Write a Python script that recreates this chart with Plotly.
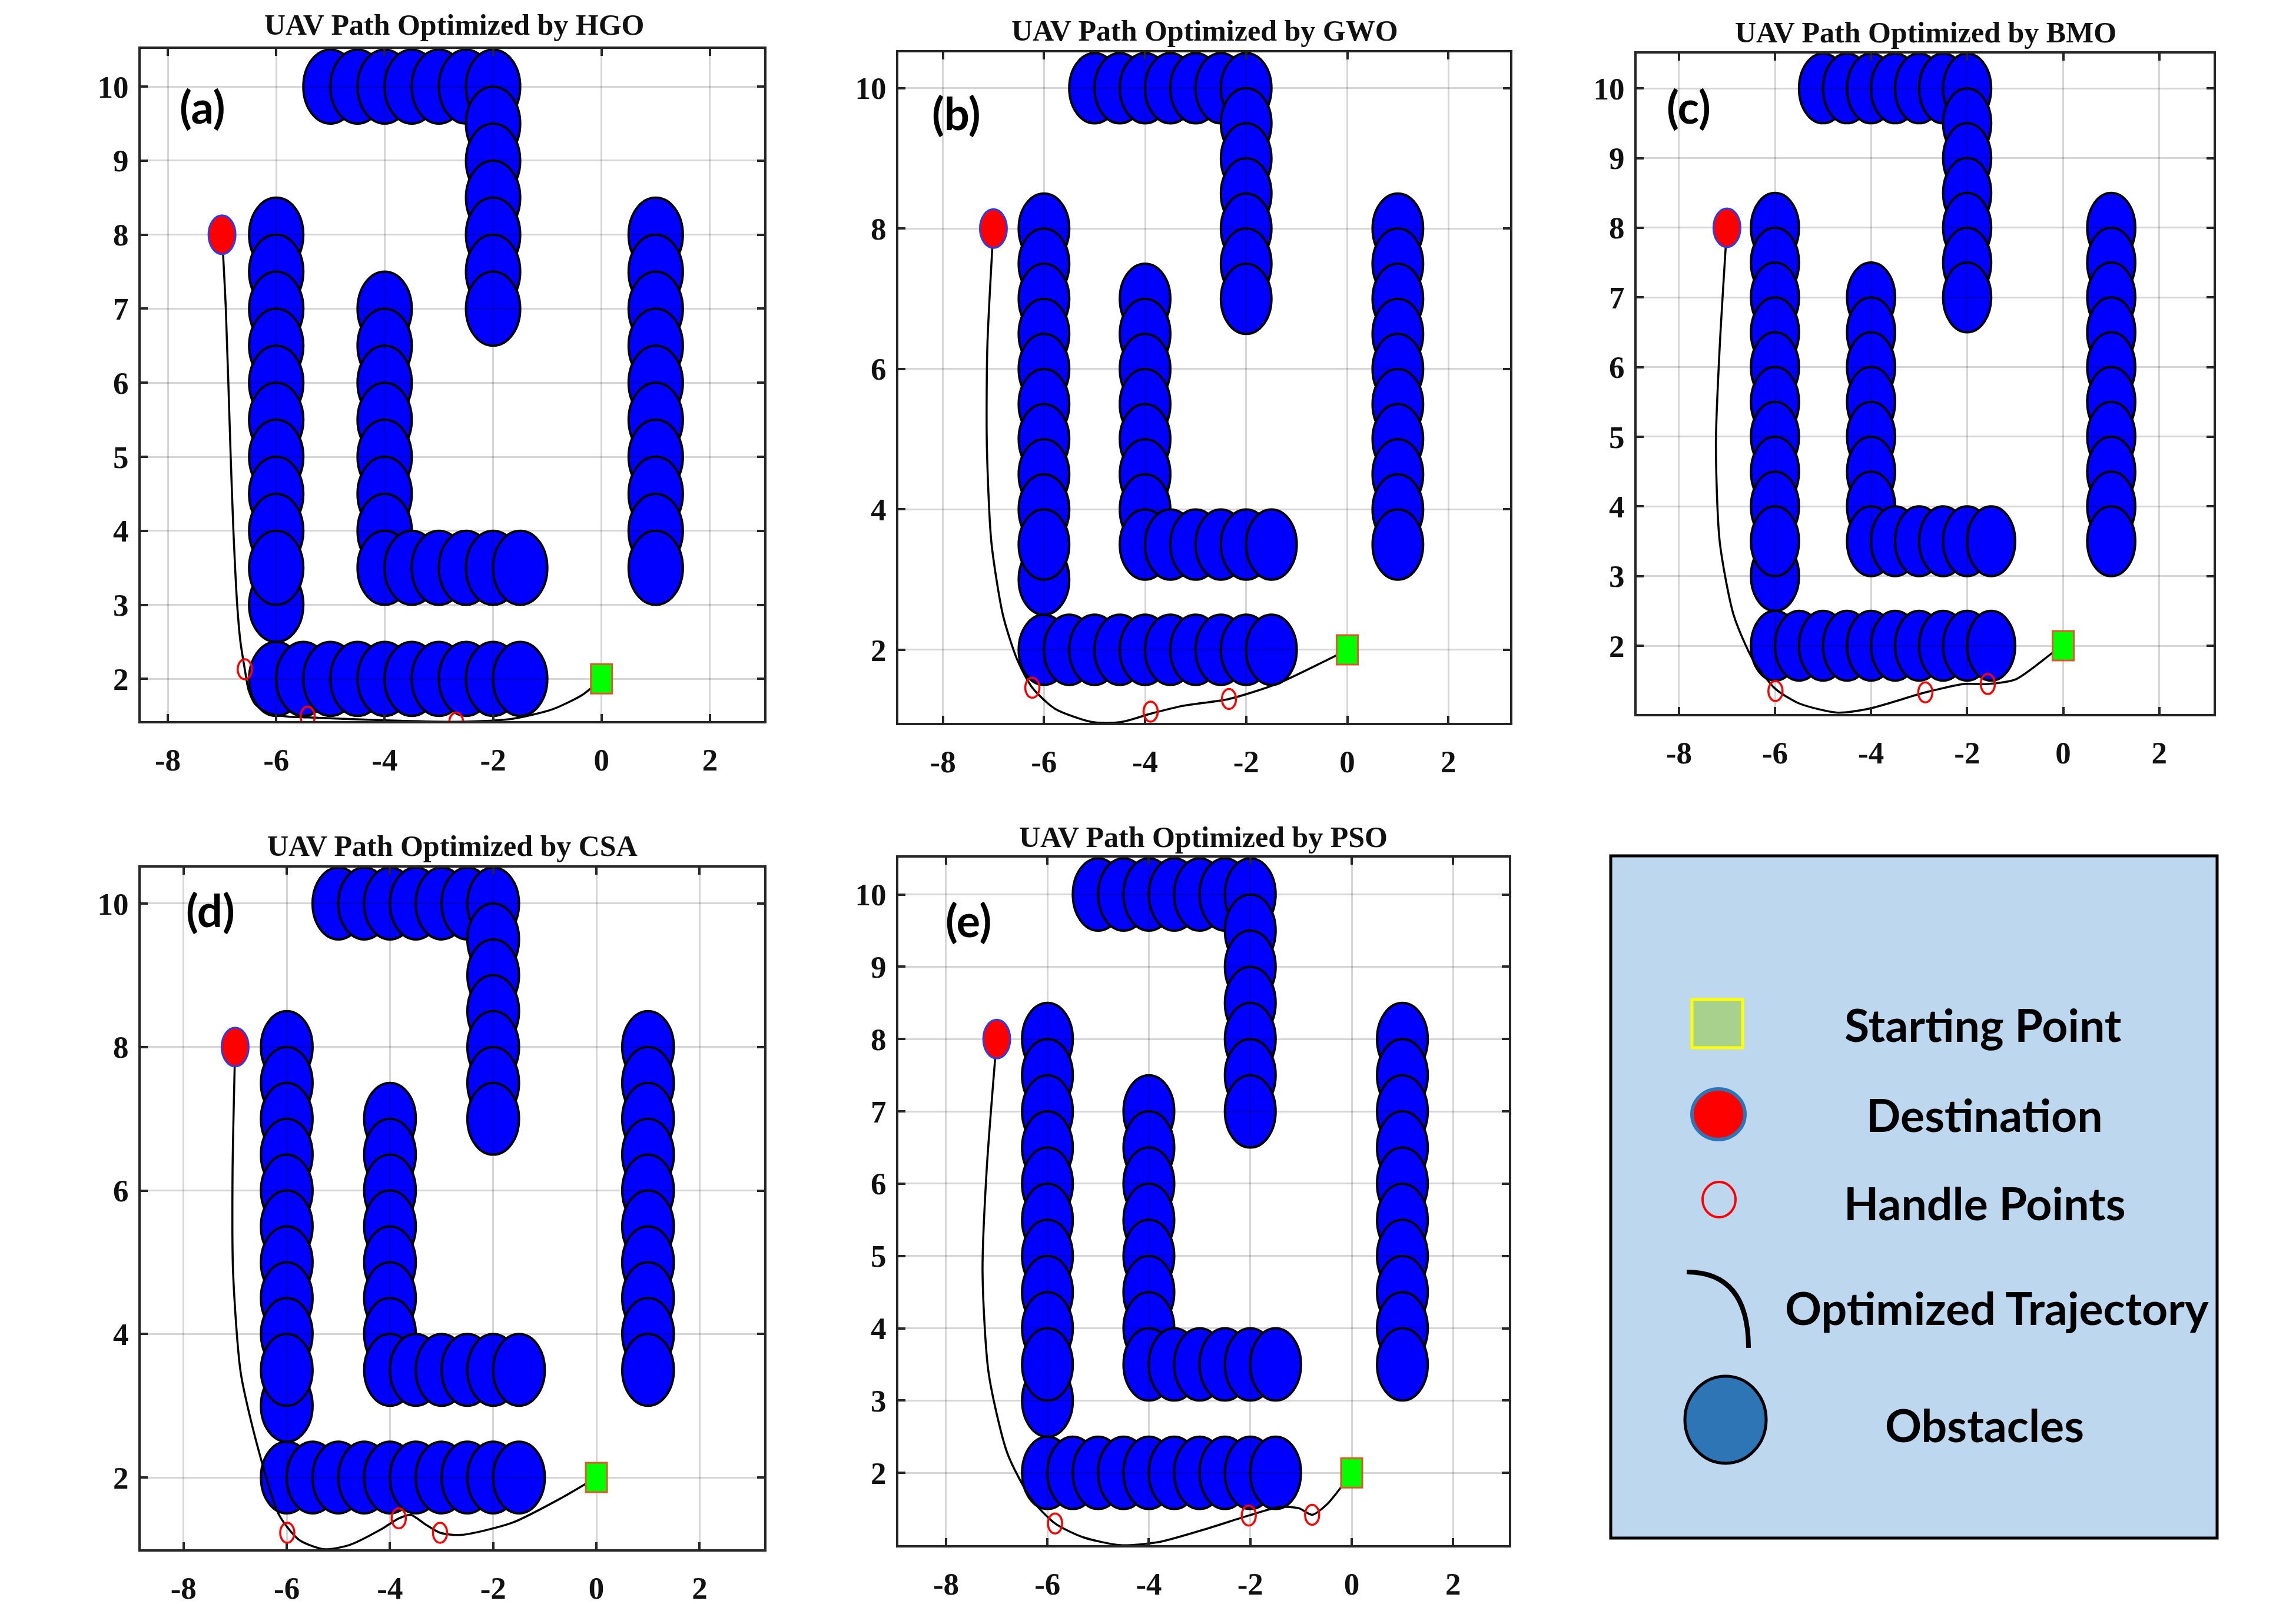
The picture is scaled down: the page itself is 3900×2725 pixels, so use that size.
import plotly.graph_objects as go

W, H = 3900, 2725

# ---------------- data ----------------
# obstacle centres (listed in drawing order), radius in data units
OBS_X = [-5, -4.5, -4, -3.5, -3, -2.5, -2,
         -2, -2, -2, -2, -2, -2,
         -6, -6, -6, -6, -6, -6, -6, -6, -6, -6, -6,
         -6, -5.5, -5, -4.5, -4, -3.5, -3, -2.5, -2, -1.5,
         -4, -4, -4, -4, -4, -4, -4,
         -4, -3.5, -3, -2.5, -2, -1.5,
         1, 1, 1, 1, 1, 1, 1, 1, 1, 1]
OBS_Y = [10, 10, 10, 10, 10, 10, 10,
         9.5, 9, 8.5, 8, 7.5, 7,
         3, 8, 7.5, 7, 6.5, 6, 5.5, 5, 4.5, 4, 3.5,
         2, 2, 2, 2, 2, 2, 2, 2, 2, 2,
         7, 6.5, 6, 5.5, 5, 4.5, 4,
         3.5, 3.5, 3.5, 3.5, 3.5, 3.5,
         8, 7.5, 7, 6.5, 6, 5.5, 5, 4.5, 4, 3.5]
OBS_R = 0.5

START_X, START_Y = 0, 2
DEST_X, DEST_Y = -7, 8

ALGOS = ["HGO", "GWO", "BMO", "CSA", "PSO"]
PANEL_TAGS = ["(a)", "(b)", "(c)", "(d)", "(e)"]

PATH_HGO_X = [-7.0, -6.93, -6.84, -6.79, -6.72, -6.66, -6.58, -6.51, -6.39, -6.15, -5.78, -5.42, -4.0, -2.68, -1.65, -0.9, -0.34, 0.0]
PATH_HGO_Y = [8.0, 7.0, 5.0, 4.0, 3.0, 2.5, 2.13, 1.85, 1.66, 1.54, 1.49, 1.48, 1.44, 1.42, 1.46, 1.59, 1.79, 2.0]
HANDLE_HGO_X = [-6.58, -5.42, -2.68]
HANDLE_HGO_Y = [2.13, 1.49, 1.41]

PATH_GWO_X = [-7.0, -7.12, -7.13, -7.04, -6.81, -6.53, -6.23, -5.78, -5.04, -4.48, -3.89, -3.27, -2.34, -1.41, -0.47, 0.0]
PATH_GWO_Y = [8.0, 6.32, 4.92, 3.53, 2.49, 1.86, 1.46, 1.16, 0.97, 0.97, 1.09, 1.2, 1.30, 1.51, 1.83, 2.0]
HANDLE_GWO_X = [-6.23, -3.89, -2.34]
HANDLE_GWO_Y = [1.46, 1.12, 1.30]

PATH_BMO_X = [-7.0, -7.15, -7.23, -7.15, -6.86, -6.46, -5.99, -5.49, -4.70, -4.02, -2.87, -2.06, -1.57, -0.98, -0.2, 0.0]
PATH_BMO_Y = [8.0, 6.3, 4.89, 3.49, 2.44, 1.80, 1.38, 1.17, 1.04, 1.10, 1.33, 1.45, 1.45, 1.52, 1.91, 2.0]
HANDLE_BMO_X = [-5.99, -2.87, -1.57]
HANDLE_BMO_Y = [1.35, 1.33, 1.45]

PATH_CSA_X = [-7.0, -7.05, -7.04, -6.89, -6.55, -6.15, -5.76, -5.27, -4.78, -4.19, -3.83, -3.6, -3.3, -3.03, -2.62, -1.63, -0.64, 0.0]
PATH_CSA_Y = [8.0, 6.27, 4.86, 3.45, 2.39, 1.48, 1.13, 1.0, 1.06, 1.27, 1.43, 1.48, 1.34, 1.23, 1.2, 1.37, 1.73, 2.0]
HANDLE_CSA_X = [-5.99, -3.83, -3.03]
HANDLE_CSA_Y = [1.23, 1.43, 1.23]

PATH_PSO_X = [-7.0, -7.2, -7.28, -7.16, -6.79, -6.32, -5.85, -5.3, -4.56, -3.82, -2.89, -2.03, -1.41, -1.04, -0.78, -0.48, -0.2, 0.0]
PATH_PSO_Y = [8.0, 6.18, 4.78, 3.38, 2.27, 1.64, 1.30, 1.11, 1.0, 1.04, 1.22, 1.41, 1.53, 1.51, 1.42, 1.57, 1.81, 2.0]
HANDLE_PSO_X = [-5.85, -2.03, -0.78]
HANDLE_PSO_Y = [1.30, 1.41, 1.42]

PATHS = {
    "HGO": (PATH_HGO_X, PATH_HGO_Y, HANDLE_HGO_X, HANDLE_HGO_Y),
    "GWO": (PATH_GWO_X, PATH_GWO_Y, HANDLE_GWO_X, HANDLE_GWO_Y),
    "BMO": (PATH_BMO_X, PATH_BMO_Y, HANDLE_BMO_X, HANDLE_BMO_Y),
    "CSA": (PATH_CSA_X, PATH_CSA_Y, HANDLE_CSA_X, HANDLE_CSA_Y),
    "PSO": (PATH_PSO_X, PATH_PSO_Y, HANDLE_PSO_X, HANDLE_PSO_Y),
}

X_TICKS = [-8, -6, -4, -2, 0, 2]
Y_TICKS_FULL = [2, 3, 4, 5, 6, 7, 8, 9, 10]
Y_TICKS_EVEN = [2, 4, 6, 8, 10]

LEGEND_LABELS = ["Starting Point", "Destination", "Handle Points", "Optimized Trajectory", "Obstacles"]

# ---------------- layout config (pixels) ----------------
PANEL_BOX = {  # left, right, top, bottom
    "HGO": (231, 1290, 75, 1217),
    "GWO": (1518, 2557, 81, 1220),
    "BMO": (2772, 3752, 83, 1205),
    "CSA": (231, 1290, 1466, 2624),
    "PSO": (1518, 2555, 1449, 2617),
}
X_RANGE = {"HGO": [-8.5, 3.0], "GWO": [-8.88, 3.22], "BMO": [-8.88, 3.13],
           "CSA": [-8.83, 3.25], "PSO": [-8.94, 3.1]}
Y_RANGE = {"HGO": [1.43, 10.51], "GWO": [0.96, 10.51], "BMO": [1.02, 10.5],
           "CSA": [1.0, 10.5], "PSO": [1.0, 10.51]}
Y_TICKSET = {"HGO": Y_TICKS_FULL, "GWO": Y_TICKS_EVEN, "BMO": Y_TICKS_FULL,
             "CSA": Y_TICKS_EVEN, "PSO": Y_TICKS_FULL}
TITLE_POS = {"HGO": (763, 34), "GWO": (2038, 44), "BMO": (3263, 47),
             "CSA": (760, 1429), "PSO": (2036, 1414)}
TAG_POS = {"HGO": (336, 172), "GWO": (1616, 183), "BMO": (2860, 172),
           "CSA": (349, 1537), "PSO": (1637, 1554)}


def px(x):
    return x / W


def py(y):
    return 1 - y / H


SERIF = "Liberation Serif"
SANS = "Lato"

fig = go.Figure()
layout = dict(width=W, height=H, margin=dict(l=0, r=0, t=0, b=0),
              paper_bgcolor="white", plot_bgcolor="white", showlegend=False)
shapes = []
annotations = []

for i, algo in enumerate(ALGOS):
    n = i + 1
    xa = "x" if n == 1 else f"x{n}"
    ya = "y" if n == 1 else f"y{n}"
    l, r, t, b = PANEL_BOX[algo]
    axis_common = dict(
        showgrid=True, gridcolor="rgba(0,0,0,0.16)", gridwidth=3,
        zeroline=False, showline=True, linecolor="#262626", linewidth=4,
        mirror="ticks", ticks="inside", ticklen=12, tickwidth=4, tickcolor="#262626",
        tickfont=dict(family=SERIF, size=53, color="#111111", weight="bold"),
        fixedrange=True,
    )
    layout["xaxis" if n == 1 else f"xaxis{n}"] = dict(
        axis_common, domain=[px(l), px(r)], range=X_RANGE[algo],
        tickvals=X_TICKS, ticktext=[str(v) for v in X_TICKS],
        anchor=ya, ticklabelstandoff=16)
    layout["yaxis" if n == 1 else f"yaxis{n}"] = dict(
        axis_common, domain=[py(b), py(t)], range=Y_RANGE[algo],
        tickvals=Y_TICKSET[algo], ticktext=[str(v) for v in Y_TICKSET[algo]],
        anchor=xa, ticklabelstandoff=6)

    # obstacles
    for cx, cy in zip(OBS_X, OBS_Y):
        shapes.append(dict(type="circle", xref=xa, yref=ya,
                           x0=cx - OBS_R, x1=cx + OBS_R, y0=cy - OBS_R, y1=cy + OBS_R,
                           fillcolor="#0000FF", line=dict(color="black", width=4),
                           layer="below"))

    path_x, path_y, hx, hy = PATHS[algo]
    fig.add_trace(go.Scatter(x=path_x, y=path_y, mode="lines", xaxis=xa, yaxis=ya,
                             line=dict(color="black", width=3.5, shape="spline", smoothing=0.7),
                             hoverinfo="skip"))

    # handle points (open red ellipses)
    for hxi, hyi in zip(hx, hy):
        shapes.append(dict(type="circle", xref=xa, yref=ya,
                           xsizemode="pixel", ysizemode="pixel",
                           xanchor=hxi, yanchor=hyi, x0=-12, x1=12, y0=-17, y1=17,
                           line=dict(color="#FF0000", width=3.5), fillcolor="rgba(0,0,0,0)",
                           layer="above"))
    # destination
    shapes.append(dict(type="circle", xref=xa, yref=ya,
                       xsizemode="pixel", ysizemode="pixel",
                       xanchor=DEST_X, yanchor=DEST_Y, x0=-23, x1=23, y0=-33, y1=33,
                       fillcolor="#FF0000", line=dict(color="#1F3FFF", width=3),
                       layer="above"))
    # start
    shapes.append(dict(type="rect", xref=xa, yref=ya,
                       xsizemode="pixel", ysizemode="pixel",
                       xanchor=START_X, yanchor=START_Y, x0=-18, x1=18, y0=-25, y1=25,
                       fillcolor="#00FF00", line=dict(color="#E2572A", width=3),
                       layer="above"))

    tx, ty = TITLE_POS[algo]
    annotations.append(dict(text=f"UAV Path Optimized by {algo}", xref="paper", yref="paper",
                            x=px(tx), y=py(ty), xanchor="center", yanchor="middle",
                            showarrow=False,
                            font=dict(family=SERIF, size=50, color="#111111", weight="bold")))
    gx, gy = TAG_POS[algo]
    annotations.append(dict(text=PANEL_TAGS[i], xref="paper", yref="paper",
                            x=px(gx), y=py(gy), xanchor="center", yanchor="middle",
                            showarrow=False,
                            font=dict(family=SANS, size=76, color="black", weight="bold")))

# ---------------- legend box ----------------
shapes.append(dict(type="rect", xref="paper", yref="paper",
                   x0=px(2728), x1=px(3758), y0=py(2605), y1=py(1446),
                   fillcolor="#BDD7EE", line=dict(color="black", width=5), layer="below"))
# starting point icon
shapes.append(dict(type="rect", xref="paper", yref="paper",
                   x0=px(2866), x1=px(2952), y0=py(1772), y1=py(1690),
                   fillcolor="#A9D18E", line=dict(color="#FFFF00", width=5)))
# destination icon
shapes.append(dict(type="circle", xref="paper", yref="paper",
                   x0=px(2866), x1=px(2956), y0=py(1928), y1=py(1842),
                   fillcolor="#FF0000", line=dict(color="#2E75B6", width=6)))
# handle icon
shapes.append(dict(type="circle", xref="paper", yref="paper",
                   x0=px(2884), x1=px(2940), y0=py(2060), y1=py(2000),
                   fillcolor="rgba(0,0,0,0)", line=dict(color="#FF0000", width=4)))
# trajectory icon (arc)
shapes.append(dict(type="path", xref="paper", yref="paper",
                   path=f"M {px(2857)},{py(2153)} Q {px(2962)},{py(2153)} {px(2962)},{py(2282)}",
                   line=dict(color="black", width=8)))
# obstacle icon
shapes.append(dict(type="circle", xref="paper", yref="paper",
                   x0=px(2854), x1=px(2992), y0=py(2478), y1=py(2330),
                   fillcolor="#2E75B6", line=dict(color="black", width=5)))

LEGEND_TEXT_POS = [(3360, 1732), (3363, 1885), (3363, 2035), (3384, 2213), (3363, 2412)]
for lab, (lx, ly) in zip(LEGEND_LABELS, LEGEND_TEXT_POS):
    annotations.append(dict(text=lab, xref="paper", yref="paper", x=px(lx), y=py(ly),
                            xanchor="center", yanchor="middle", showarrow=False,
                            font=dict(family=SANS, size=77, color="black", weight="bold")))

layout["shapes"] = shapes
layout["annotations"] = annotations
fig.update_layout(**layout)
fig.write_html("out.html")
